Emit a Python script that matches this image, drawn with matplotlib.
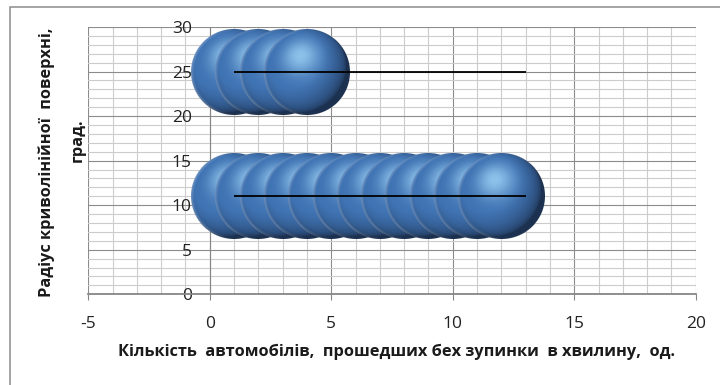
import numpy as np
import matplotlib
matplotlib.use("Agg")
import matplotlib.pyplot as plt
from matplotlib.offsetbox import OffsetImage, AnnotationBbox
from matplotlib.patches import Rectangle
from matplotlib.ticker import MultipleLocator

plt.rcParams["font.family"] = ["Open Sans", "DejaVu Sans"]
plt.rcParams["axes.unicode_minus"] = False

# дані
series1_x = [1, 2, 3, 4]
series1_y = [25, 25, 25, 25]
series2_x = [1, 2, 3, 4, 5, 6, 7, 8, 9, 10, 11, 12]
series2_y = [11, 11, 11, 11, 11, 11, 11, 11, 11, 11, 11, 11]

line_y = [25, 11]
line_x_start = [1, 1]
line_x_end = [13, 13]

x_label = "Кількість  автомобілів,  прошедших бех зупинки  в хвилину,  од."
y_label_1 = "Радіус криволінійної  поверхні,"
y_label_2 = "град."


def sphere_image(size: int = 86) -> np.ndarray:
    # "3D" кулька як в Excel
    ys, xs = np.mgrid[0:size, 0:size]
    u = (xs + 0.5 - size / 2) / (size / 2)
    v = -(ys + 0.5 - size / 2) / (size / 2)
    r2 = u ** 2 + v ** 2
    r = np.sqrt(r2)
    w = np.sqrt(np.clip(1 - r2, 0, 1))
    light = np.array([-0.4, 0.35, 0.85])
    light = light / np.linalg.norm(light)
    diff = np.clip(u * light[0] + v * light[1] + w * light[2], 0, 1)[..., None]
    spot = np.array([-0.15, 0.38, 0.91])
    spot = spot / np.linalg.norm(spot)
    sp = np.clip(u * spot[0] + v * spot[1] + w * spot[2], 0, 1)[..., None]
    dark = np.array([0.11, 0.19, 0.31])
    base = np.array([0.25, 0.45, 0.70])
    hi = np.array([0.55, 0.76, 0.92])
    rgb = dark + (base - dark) * np.clip(diff * 1.35, 0, 1) ** 0.6 + (hi - base) * sp ** 10
    rim = (np.clip((r - 0.93) / 0.07, 0, 1) * np.clip(-u * 1.5, 0, 1))[..., None]
    rgb = rgb * (1 - 0.4 * rim) + 0.4 * rim * np.array([0.75, 0.83, 0.92])
    alpha = np.clip((1 - r) * size / 2 + 0.5, 0, 1)
    return np.dstack([np.clip(rgb, 0, 1), alpha])


def main() -> None:
    fig = plt.figure(figsize=(7.2, 3.85), dpi=100)
    ax = fig.add_axes([88.3 / 720, 1 - 294.3 / 385, (695.7 - 88.3) / 720, (294.3 - 27) / 385])
    ax.set_xlim(-5, 20)
    ax.set_ylim(0, 30)
    ax.xaxis.set_major_locator(MultipleLocator(5))
    ax.xaxis.set_minor_locator(MultipleLocator(1))
    ax.yaxis.set_major_locator(MultipleLocator(5))
    ax.yaxis.set_minor_locator(MultipleLocator(1))
    ax.grid(which="major", color="#8c8c8c", lw=0.8)
    ax.grid(which="minor", color="#cccccc", lw=0.8)
    ax.set_axisbelow(True)

    for s in ("top", "right"):
        ax.spines[s].set_visible(False)
    ax.spines["left"].set_position(("data", 0))
    ax.spines["left"].set_color("#868686")
    ax.spines["bottom"].set_color("#868686")
    ax.spines["bottom"].set_linewidth(1.3)

    ax.tick_params(axis="x", which="major", direction="out", length=4.5, color="#868686",
                   pad=11, labelsize=12.5, labelcolor="#222222")
    ax.tick_params(axis="x", which="minor", length=0)
    ax.tick_params(axis="y", which="both", length=0, pad=13, labelsize=12.5, labelcolor="#222222")

    img = sphere_image(86)
    for xs, ys in ((series1_x, series1_y), (series2_x, series2_y)):
        for x, y in zip(xs, ys):
            ab = AnnotationBbox(OffsetImage(img, zoom=1, dpi_cor=False), (x, y),
                                xycoords="data", frameon=False, pad=0, zorder=3)
            ax.add_artist(ab)

    ax.hlines(line_y, line_x_start, line_x_end, color="black", lw=1.3, zorder=4)

    fig.text(396 / 720, 1 - 352 / 385, x_label, ha="center", va="center",
             fontsize=11.8, fontweight="bold", color="#1a1a1a")
    fig.text(47 / 720, 1 - 162 / 385, y_label_1, ha="center", va="center", rotation=90,
             fontsize=11.8, fontweight="bold", color="#1a1a1a")
    fig.text(78 / 720, 1 - 140 / 385, y_label_2, ha="center", va="center", rotation=90,
             fontsize=11.8, fontweight="bold", color="#1a1a1a")

    fig.add_artist(Rectangle((10 / 720, -0.5), 2, 1.5 - 6.5 / 385, transform=fig.transFigure,
                             fill=False, edgecolor="#8c8c8c", lw=1.1))

    fig.savefig("out.png", dpi=100)
    plt.close(fig)


if __name__ == "__main__":
    main()
